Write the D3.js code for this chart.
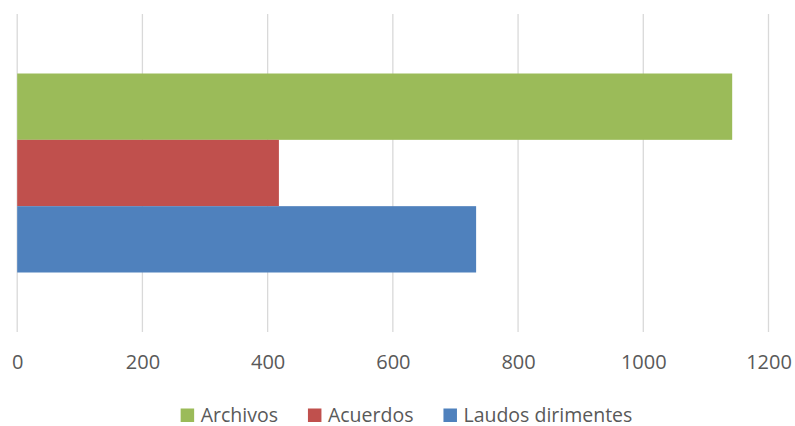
<!DOCTYPE html>
<html>
<head>
<meta charset="utf-8">
<script src="https://cdn.jsdelivr.net/npm/d3@7"></script>
<style>
  html, body { margin: 0; padding: 0; background: #fff; }
  svg { display: block; }
  text { font-family: "Open Sans", sans-serif; fill: #595959; }
</style>
</head>
<body>
<svg id="chart" width="795" height="426"></svg>
<script>
// Series, top to bottom within the single category
const series = ["Archivos", "Acuerdos", "Laudos dirimentes"];
const values = [1142, 418, 733];
const colors = ["#9BBB59", "#C0504D", "#4F81BD"];
const xTicks = [0, 200, 400, 600, 800, 1000, 1200];
const categories = ["Total"];

const svg = d3.select("#chart");
const plot = { left: 17.2, right: 768.5, top: 14, bottom: 332 };

const x = d3.scaleLinear().domain([0, 1200]).range([plot.left, plot.right]);
const yCat = d3.scaleBand().domain(categories).range([plot.top, plot.bottom])
  .paddingInner(0).paddingOuter(0.299);
const ySer = d3.scaleBand().domain(series).range([0, yCat.bandwidth()]).padding(0);

// Vertical gridlines
svg.append("g").selectAll("line").data(xTicks).join("line")
  .attr("x1", d => x(d)).attr("x2", d => x(d))
  .attr("y1", plot.top).attr("y2", plot.bottom)
  .attr("stroke", "#d9d9d9").attr("stroke-width", 1.3);

// Bars
const g = svg.append("g").attr("transform", `translate(0,${yCat(categories[0])})`);
g.selectAll("rect").data(series).join("rect")
  .attr("x", x(0))
  .attr("y", d => ySer(d))
  .attr("width", (d, i) => x(values[i]) - x(0))
  .attr("height", ySer.bandwidth())
  .attr("fill", (d, i) => colors[i]);

// Tick labels
const axis = d3.axisBottom(x).tickValues(xTicks).tickFormat(d3.format("d"))
  .tickSize(0).tickPadding(0);
const ax = svg.append("g").attr("transform", `translate(0,${plot.bottom})`).call(axis);
ax.select(".domain").remove();
ax.selectAll("text")
  .attr("y", 37).attr("dy", null)
  .attr("font-size", 20)
  .attr("font-family", "Open Sans, sans-serif")
  .attr("fill", "#595959");

// Legend
const legend = svg.append("g");
const items = legend.selectAll("g").data(series).join("g");
items.append("rect")
  .attr("y", 408.5).attr("width", 13.5).attr("height", 13.5)
  .attr("fill", (d, i) => colors[i]);
items.append("text")
  .attr("x", 20).attr("y", 421.5)
  .attr("font-size", 19.5)
  .text(d => d);
let cursor = 0;
items.each(function() {
  const w = d3.select(this).select("text").node().getComputedTextLength();
  d3.select(this).attr("transform", `translate(${cursor},0)`);
  cursor += 20 + w + 30;
});
const totalW = cursor - 30;
legend.attr("transform", `translate(${406.5 - totalW / 2},0)`);
</script>
</body>
</html>
